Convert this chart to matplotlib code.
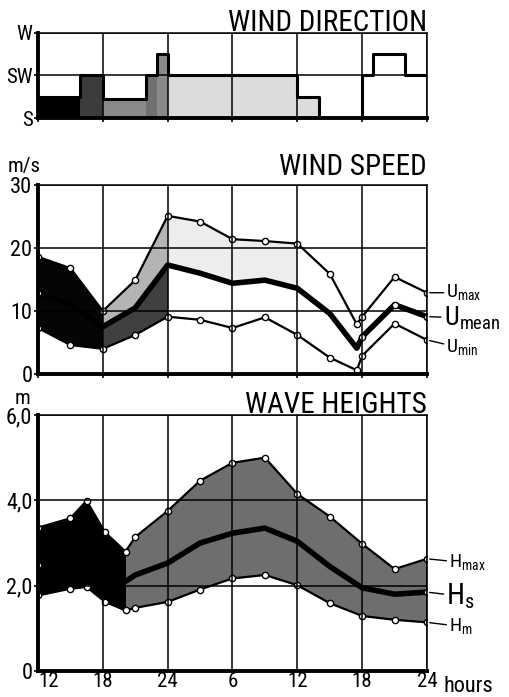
import matplotlib
matplotlib.use('Agg')
import numpy as np
import matplotlib.pyplot as plt
from matplotlib import font_manager


def pick_font(names):
    for n in names:
        try:
            font_manager.findfont(font_manager.FontProperties(family=n), fallback_to_default=False)
            return n
        except ValueError:
            pass
    return 'DejaVu Sans'


FONT = pick_font(['Liberation Sans Narrow', 'Roboto Condensed', 'Liberation Sans', 'DejaVu Sans'])
plt.rcParams['font.family'] = [FONT, 'DejaVu Sans']
plt.rcParams['mathtext.fontset'] = 'custom'
plt.rcParams['mathtext.rm'] = FONT

# time axis: hours since 12h of day 1
hours = [0, 6, 12, 18, 24, 30, 36]
hour_labels = ['12', '18', '24', '6', '12', '18', '24']

# wind direction (degrees), step changes
dir_t = [0, 3.9, 6, 10, 11, 12, 24, 26, 30, 31, 34, 36]
dir_deg = [202.5, 225, 200, 225, 247.5, 225, 202.5, 180, 225, 247.5, 225, 225]
dir_shade = ['#000000', '#3c3c3c', '#8a8a8a', '#707070', '#8a8a8a',
             '#dcdcdc', '#dcdcdc', None, None, None, None]

# wind speed (m/s)
ws_t = np.array([0, 3, 6, 9, 12, 15, 18, 21, 24, 27, 29.5, 30, 33, 36])
u_max = np.array([18.6, 16.8, 10.0, 14.9, 25.1, 24.2, 21.4, 21.1, 20.7, 15.9, 7.9, 9.1, 15.4, 12.9])
u_mean = np.array([12.8, 11.0, 7.5, 10.5, 17.3, 16.0, 14.4, 14.9, 13.6, 9.6, 4.1, 5.9, 11.0, 9.1])
u_min = np.array([7.3, 4.6, 4.0, 6.2, 9.1, 8.6, 7.3, 9.0, 6.2, 2.6, 0.6, 2.9, 8.0, 5.4])

# wave heights (m)
wh_t = np.array([0, 3, 4.5, 6.2, 8.1, 9, 12, 15, 18, 21, 24, 27, 30, 33, 36])
h_max = np.array([3.36, 3.58, 3.99, 3.25, 2.80, 3.14, 3.75, 4.46, 4.88, 5.0, 4.15, 3.62, 2.98, 2.39, 2.63])
h_s = np.array([2.48, 2.6, 2.8, 2.4, 2.1, 2.25, 2.53, 3.0, 3.23, 3.35, 3.04, 2.45, 1.95, 1.80, 1.85])
h_m = np.array([1.77, 1.93, 1.97, 1.62, 1.42, 1.48, 1.62, 1.91, 2.17, 2.25, 2.01, 1.59, 1.29, 1.20, 1.14])

W, H = 510, 697
fig = plt.figure(figsize=(W / 100, H / 100), dpi=100)


def px_axes(left, right, top, bottom):
    return fig.add_axes([left / W, 1 - bottom / H, (right - left) / W, (bottom - top) / H])


def style(ax, yticks, ylabels):
    ax.set_xlim(0, 36)
    ax.set_xticks(hours)
    ax.set_yticks(yticks)
    ax.set_yticklabels(ylabels)
    ax.grid(True, color='k', lw=1.1)
    ax.set_axisbelow(False)
    ax.tick_params(length=3, width=1.2, pad=1, labelsize=16)
    for s in ['left', 'bottom']:
        ax.spines[s].set_linewidth(2.8)
    for s in ['top', 'right']:
        ax.spines[s].set_linewidth(1.1)


mk = dict(marker='o', ms=4.5, mfc='white', mec='k', mew=1.0)

# ---------- wind direction ----------
ax1 = px_axes(38, 427, 33, 118)
for i in range(len(dir_shade)):
    if dir_shade[i] is not None:
        ax1.fill_between([dir_t[i], dir_t[i + 1]], 180, dir_deg[i], color=dir_shade[i], lw=0)
ax1.step(dir_t, dir_deg, where='post', color='k', lw=2.2)
ax1.set_ylim(180, 270)
style(ax1, [180, 225, 270], ['S', 'SW', 'W'])
ax1.tick_params(labelsize=15)
ax1.set_xticklabels([])
fig.text(427 / W, 1 - 31 / H, 'WIND DIRECTION', ha='right', va='baseline', fontsize=21)

# ---------- wind speed ----------
ax2 = px_axes(38, 427, 185, 374)
seg1 = ws_t <= 6
seg2 = (ws_t >= 6) & (ws_t <= 12)
seg3 = (ws_t >= 12) & (ws_t <= 24)
ax2.fill_between(ws_t, u_min, u_max, where=seg1, color='#050505', lw=0)
ax2.fill_between(ws_t, u_mean, u_max, where=seg2, color='#b4b4b4', lw=0)
ax2.fill_between(ws_t, u_min, u_mean, where=seg2, color='#404040', lw=0)
ax2.fill_between(ws_t, u_mean, u_max, where=seg3, color='#ededed', lw=0)
ax2.plot(ws_t, u_max, color='k', lw=1.6, **mk)
ax2.plot(ws_t, u_min, color='k', lw=1.6, **mk)
ax2.plot(ws_t, u_mean, color='k', lw=4.0, **mk, markevery=[0, 11, 12, 13])
ax2.set_ylim(0, 30)
style(ax2, [0, 10, 20, 30], ['0', '10', '20', '30'])
ax2.set_xticklabels([])
fig.text(427 / W, 1 - 175 / H, 'WIND SPEED', ha='right', va='baseline', fontsize=21)
fig.text(8 / W, 1 - 172 / H, 'm/s', ha='left', va='baseline', fontsize=15)

lead = dict(arrowstyle='-', color='k', lw=1.0, shrinkA=0, shrinkB=2)
ax2.annotate(r'U$_\mathregular{max}$', xy=(36, u_max[-1]), xytext=(14, 0),
             textcoords='offset points', va='center', ha='left', fontsize=14, arrowprops=lead)
ax2.annotate(r'U$_\mathregular{mean}$', xy=(36, u_mean[-1]), xytext=(12, -1),
             textcoords='offset points', va='center', ha='left', fontsize=19, arrowprops=lead)
ax2.annotate(r'U$_\mathregular{min}$', xy=(36, u_min[-1]), xytext=(14, -6),
             textcoords='offset points', va='center', ha='left', fontsize=14, arrowprops=lead)

# ---------- wave heights ----------
ax3 = px_axes(38, 427, 415, 671)
dark = wh_t <= 8.1
light = wh_t >= 8.1
ax3.fill_between(wh_t, h_m, h_max, where=dark, color='#000000', lw=0)
ax3.fill_between(wh_t, h_m, h_max, where=light, color='#6e6e6e', lw=0)
ax3.plot(wh_t, h_max, color='k', lw=1.6, **mk)
ax3.plot(wh_t, h_m, color='k', lw=1.6, **mk)
ax3.plot(wh_t, h_s, color='k', lw=4.0, **mk, markevery=[0, len(wh_t) - 1])
ax3.set_ylim(0, 6)
style(ax3, [0, 2, 4, 6], ['0', '2,0', '4,0', '6,0'])
ax3.set_xticklabels(hour_labels)
ax3.tick_params(axis='x', labelsize=15, length=0, pad=1)
ax3.get_xticklabels()[0].set_horizontalalignment('left')
fig.text(444 / W, 1 - 692 / H, 'hours', ha='left', va='baseline', fontsize=16)
fig.text(427 / W, 1 - 413 / H, 'WAVE HEIGHTS', ha='right', va='baseline', fontsize=21)
fig.text(15 / W, 1 - 404 / H, 'm', ha='left', va='baseline', fontsize=15)

ax3.annotate(r'H$_\mathregular{max}$', xy=(36, h_max[-1]), xytext=(16, -3),
             textcoords='offset points', va='center', ha='left', fontsize=14, arrowprops=lead)
ax3.annotate(r'H$_\mathregular{s}$', xy=(36, h_s[-1]), xytext=(14, -3),
             textcoords='offset points', va='center', ha='left', fontsize=21, arrowprops=lead)
ax3.annotate(r'H$_\mathregular{m}$', xy=(36, h_m[-1]), xytext=(16, -3),
             textcoords='offset points', va='center', ha='left', fontsize=14, arrowprops=lead)

fig.savefig('out.png', dpi=100)
